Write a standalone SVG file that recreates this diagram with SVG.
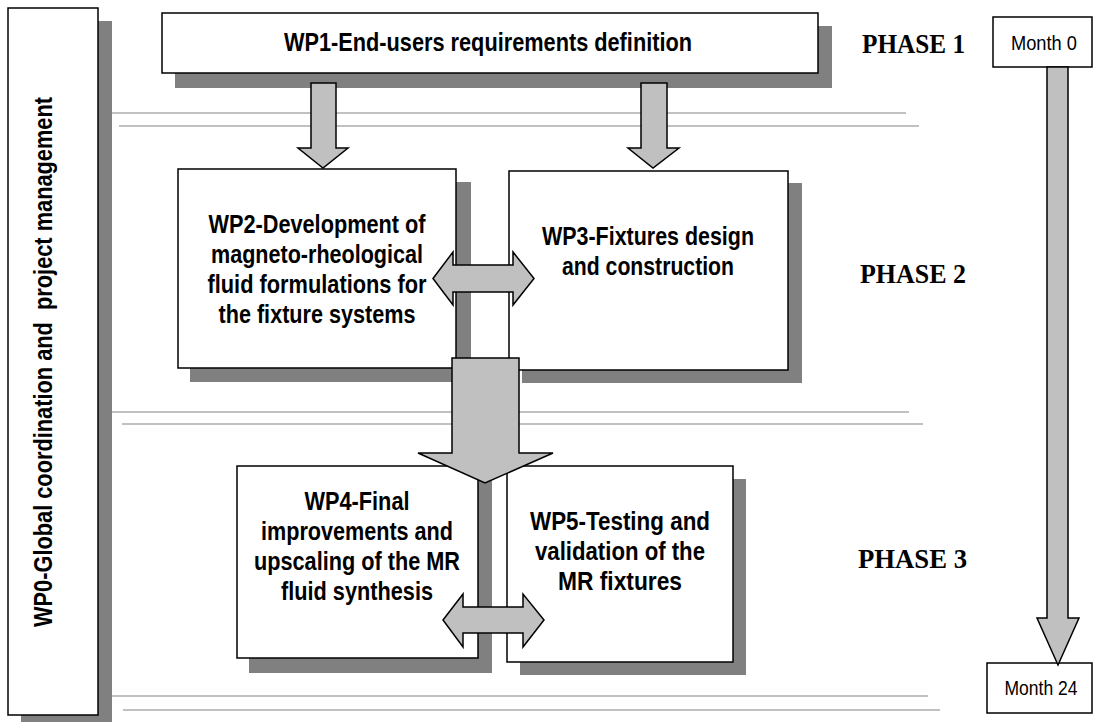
<svg xmlns="http://www.w3.org/2000/svg" width="1094" height="722" viewBox="0 0 1094 722">
<style>
.box{fill:#fff;stroke:#000;stroke-width:1.5}
.sh{fill:#808080}
.arr{fill:#c0c0c0;stroke:#000;stroke-width:1.5;stroke-linejoin:miter}
.ln{stroke:#adadad;stroke-width:1.5;fill:none}
.t{font-family:"Liberation Sans",Arial,sans-serif;font-size:25px;font-weight:bold;fill:#000;text-anchor:middle}
.m{font-family:"Liberation Sans",Arial,sans-serif;font-size:21px;fill:#000;text-anchor:middle}
.ph{font-family:"Liberation Serif","Times New Roman",serif;font-size:28px;font-weight:bold;fill:#000}
</style>
<rect width="1094" height="722" fill="#fff"/>
<g id="phase-lines">
<line class="ln" x1="106" y1="113" x2="906" y2="113"/>
<line class="ln" x1="119" y1="126" x2="919" y2="126"/>
<line class="ln" x1="110" y1="412" x2="909" y2="412"/>
<line class="ln" x1="122" y1="424" x2="923" y2="424"/>
<line class="ln" x1="110" y1="696" x2="928" y2="696"/>
<line class="ln" x1="123" y1="710" x2="940" y2="710"/>
</g>
<g id="wp0">
<rect class="sh" x="21" y="21" width="91" height="708"/>
<rect class="box" x="8" y="8" width="90" height="707"/>
<text class="t" transform="translate(52,362) rotate(-90)" xml:space="preserve" textLength="530" lengthAdjust="spacingAndGlyphs" x="0" y="0">WP0-Global coordination and  project management</text>
</g>
<g id="wp1">
<rect class="sh" x="175" y="26" width="657" height="62"/>
<rect class="box" x="162" y="13" width="656" height="60"/>
<text class="t" x="488" y="51" textLength="408" lengthAdjust="spacingAndGlyphs">WP1-End-users requirements definition</text>
</g>
<g id="wp2">
<rect class="sh" x="190" y="182" width="281" height="200"/>
<rect class="box" x="178" y="169" width="278" height="199"/>
<text class="t" x="317" y="233" textLength="217" lengthAdjust="spacingAndGlyphs">WP2-Development of</text>
<text class="t" x="317" y="263" textLength="212" lengthAdjust="spacingAndGlyphs">magneto-rheological</text>
<text class="t" x="317" y="293" textLength="219" lengthAdjust="spacingAndGlyphs">fluid formulations for</text>
<text class="t" x="317" y="323" textLength="197" lengthAdjust="spacingAndGlyphs">the fixture systems</text>
</g>
<g id="wp3">
<rect class="sh" x="522" y="183" width="280" height="200"/>
<rect class="box" x="509" y="171" width="279" height="199"/>
<text class="t" x="648" y="245" textLength="212" lengthAdjust="spacingAndGlyphs">WP3-Fixtures design</text>
<text class="t" x="648" y="275" textLength="172" lengthAdjust="spacingAndGlyphs">and construction</text>
</g>
<g id="wp4">
<rect class="sh" x="249" y="479" width="243" height="194"/>
<rect class="box" x="237" y="466" width="241" height="192"/>
<text class="t" x="357" y="510" textLength="105" lengthAdjust="spacingAndGlyphs">WP4-Final</text>
<text class="t" x="357" y="540" textLength="192" lengthAdjust="spacingAndGlyphs">improvements and</text>
<text class="t" x="357" y="570" textLength="206" lengthAdjust="spacingAndGlyphs">upscaling of the MR</text>
<text class="t" x="357" y="600" textLength="152" lengthAdjust="spacingAndGlyphs">fluid synthesis</text>
</g>
<g id="wp5">
<rect class="sh" x="520" y="479" width="226" height="196"/>
<rect class="box" x="507" y="466" width="226" height="196"/>
<text class="t" x="620" y="530" textLength="180" lengthAdjust="spacingAndGlyphs">WP5-Testing and</text>
<text class="t" x="620" y="560" textLength="170" lengthAdjust="spacingAndGlyphs">validation of the</text>
<text class="t" x="620" y="590" textLength="124" lengthAdjust="spacingAndGlyphs">MR fixtures</text>
</g>
<g id="phases">
<text class="ph" x="862" y="53" textLength="103" lengthAdjust="spacingAndGlyphs">PHASE 1</text>
<text class="ph" x="860" y="283" textLength="106" lengthAdjust="spacingAndGlyphs">PHASE 2</text>
<text class="ph" x="858" y="568" textLength="109" lengthAdjust="spacingAndGlyphs">PHASE 3</text>
</g>
<g id="month0">
<rect class="box" x="993" y="17" width="99" height="50"/>
<text class="m" x="1044" y="50" textLength="66" lengthAdjust="spacingAndGlyphs">Month 0</text>
</g>
<g id="month24">
<rect class="box" x="987" y="663" width="105" height="50"/>
<text class="m" x="1041" y="695" textLength="73" lengthAdjust="spacingAndGlyphs">Month 24</text>
</g>
<g id="connectors">
<polygon class="arr" points="311,83 336,83 336,148 348,148 323,168 298,148 311,148"/>
<polygon class="arr" points="641,83 667,83 667,148 679,148 653,168 628,148 641,148"/>
<polygon class="arr" points="433,278.5 453,252 453,265 513,265 513,252 534,278.5 513,305 513,292 453,292 453,305"/>
<polygon class="arr" points="452,358 519,358 519,453 553,453 485,483 418,453 452,453"/>
<polygon class="arr" points="443,620 463,594 463,607 523,607 523,594 544,620 523,647 523,633 463,633 463,647"/>
<polygon class="arr" points="1047,67 1068,67 1068,618 1079,618 1058,665 1037,618 1047,618"/>
</g>
</svg>
